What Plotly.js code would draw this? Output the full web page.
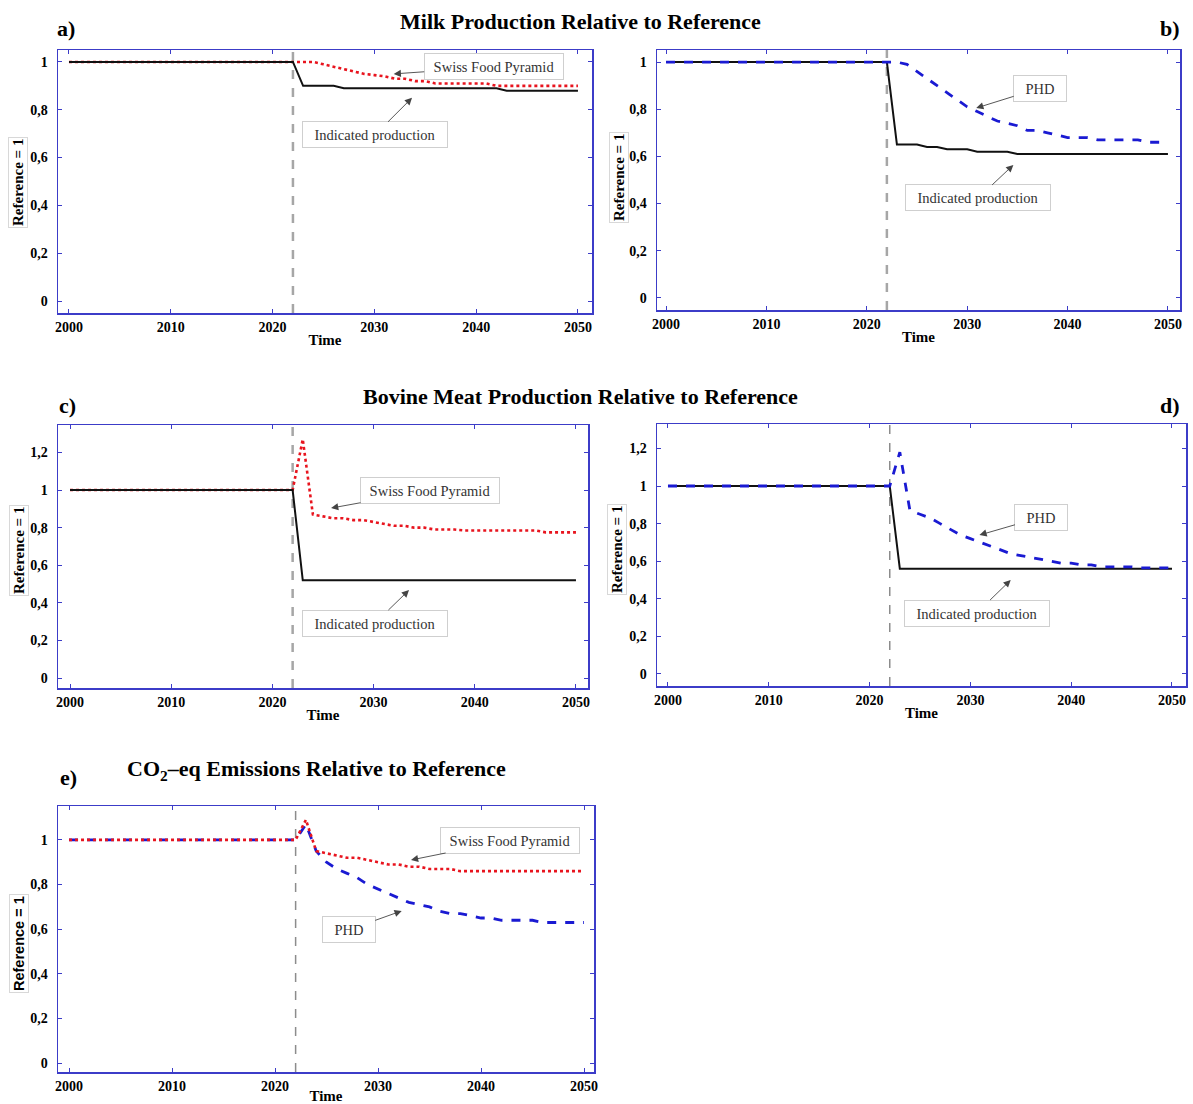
<!DOCTYPE html>
<html><head><meta charset="utf-8">
<script src="https://cdn.plot.ly/plotly-3.0.1.min.js"></script>
<style>html,body{margin:0;padding:0;background:#fff}#chart{width:1193px;height:1104px}</style>
</head><body><div id="chart"></div>
<script>
// ---------- data ----------
const years = [2000,2001,2002,2003,2004,2005,2006,2007,2008,2009,2010,2011,2012,2013,2014,2015,2016,2017,2018,2019,2020,2021,2022,
               2023,2024,2025,2026,2027,2028,2029,2030,2031,2032,2033,2034,2035,2036,2037,2038,2039,2040,2041,2042,2043,2044,2045,2046,2047,2048,2049,2050];
const policyYear = 2022;
const base = [1,1,1,1,1,1,1,1,1,1,1,1,1,1,1,1,1,1,1,1,1,1,1]; // 2000-2022

// a) milk – Swiss Food Pyramid scenario
const milkIndicatedSFP = base.concat([0.90,0.90,0.90,0.90,0.89,0.89,0.89,0.89,0.89,0.89,0.89,0.89,0.89,0.89,0.89,0.89,0.89,0.89,0.89,0.89,0.88,0.88,0.88,0.88,0.88,0.88,0.88,0.88]);
const milkSFP          = base.concat([1.00,1.00,0.99,0.98,0.97,0.96,0.95,0.945,0.94,0.93,0.93,0.92,0.92,0.91,0.91,0.91,0.91,0.91,0.91,0.90,0.90,0.90,0.90,0.90,0.90,0.90,0.90,0.90]);
// b) milk – PHD scenario
const milkIndicatedPHD = base.concat([0.65,0.65,0.65,0.64,0.64,0.63,0.63,0.63,0.62,0.62,0.62,0.62,0.61,0.61,0.61,0.61,0.61,0.61,0.61,0.61,0.61,0.61,0.61,0.61,0.61,0.61,0.61,0.61]);
const milkPHD          = base.concat([1.00,0.99,0.96,0.93,0.90,0.87,0.84,0.81,0.79,0.77,0.75,0.74,0.73,0.71,0.71,0.70,0.69,0.68,0.68,0.68,0.67,0.67,0.67,0.67,0.67,0.66,0.66,0.66]);
// c) bovine meat – Swiss Food Pyramid scenario
const beefIndicatedSFP = base.concat([0.52,0.52,0.52,0.52,0.52,0.52,0.52,0.52,0.52,0.52,0.52,0.52,0.52,0.52,0.52,0.52,0.52,0.52,0.52,0.52,0.52,0.52,0.52,0.52,0.52,0.52,0.52,0.52]);
const beefSFP          = base.concat([1.27,0.87,0.86,0.85,0.85,0.84,0.84,0.83,0.82,0.81,0.81,0.80,0.80,0.79,0.79,0.79,0.785,0.785,0.785,0.785,0.785,0.785,0.785,0.785,0.775,0.775,0.775,0.775]);
// d) bovine meat – PHD scenario
const beefIndicatedPHD = base.concat([0.56,0.56,0.56,0.56,0.56,0.56,0.56,0.56,0.56,0.56,0.56,0.56,0.56,0.56,0.56,0.56,0.56,0.56,0.56,0.56,0.56,0.56,0.56,0.56,0.56,0.56,0.56,0.56]);
const beefPHD          = base.concat([1.18,0.87,0.85,0.83,0.80,0.77,0.74,0.72,0.70,0.68,0.66,0.64,0.63,0.62,0.61,0.60,0.59,0.59,0.58,0.58,0.57,0.57,0.57,0.57,0.565,0.565,0.565,0.565]);
// e) CO2-eq emissions
const co2SFP = base.concat([1.09,0.95,0.94,0.93,0.92,0.92,0.91,0.90,0.89,0.89,0.88,0.88,0.87,0.87,0.87,0.86,0.86,0.86,0.86,0.86,0.86,0.86,0.86,0.86,0.86,0.86,0.86,0.86]);
const co2PHD = base.concat([1.07,0.95,0.90,0.87,0.85,0.83,0.80,0.78,0.76,0.74,0.72,0.71,0.70,0.68,0.67,0.67,0.66,0.65,0.65,0.64,0.64,0.64,0.64,0.63,0.63,0.63,0.63,0.63]);

const xTicks = [2000,2010,2020,2030,2040,2050];
const yTicks = [0,0.2,0.4,0.6,0.8,1];
const yTickText = ['0','0,2','0,4','0,6','0,8','1'];
const yTicksBeef = [0,0.2,0.4,0.6,0.8,1,1.2];
const yTickTextBeef = ['0','0,2','0,4','0,6','0,8','1','1,2'];

const titles = ['Milk Production Relative to Reference','Bovine Meat Production Relative to Reference','CO<sub>2</sub>–eq Emissions Relative to Reference'];
const panelLetters = ['a)','b)','c)','d)','e)'];
const yTitle = 'Reference = 1';
const xTitle = 'Time';

// callouts: [axis suffix, label, tip year, tip value, dx, dy]
const callouts = [
  ['', 'Swiss Food Pyramid', 2031.9, 0.95, 100, -7],
  ['', 'Indicated production', 2033.7, 0.85, -37, 37],
  ['2', 'PHD', 2030.9, 0.805, 64, -20],
  ['2', 'Indicated production', 2034.6, 0.564, -35, 33],
  ['3', 'Swiss Food Pyramid', 2025.8, 0.904, 99, -18],
  ['3', 'Indicated production', 2033.5, 0.468, -34, 33],
  ['4', 'PHD', 2030.9, 0.739, 62, -18],
  ['4', 'Indicated production', 2034.0, 0.50, -34, 33],
  ['5', 'Swiss Food Pyramid', 2033.2, 0.91, 99, -20],
  ['5', 'PHD', 2032.3, 0.682, -53, 19]
];

// ---------- styles ----------
const SERIF = 'Liberation Serif, Times New Roman, serif';
const SANS = 'Liberation Sans, Arial, sans-serif';
const FRAME = '#3c3cc8';
const black = {color:'#111', width:2};
const red = {color:'#e8141e', width:2.6, dash:'dot'};
const blue = {color:'#1a1ad2', width:2.8, dash:'dash'};

function tr(y, ax, line, name){
  return {x: years, y: y, xaxis:'x'+ax, yaxis:'y'+ax, mode:'lines', line: line, name: name, showlegend:false, hoverinfo:'skip'};
}
const data = [
  tr(milkSFP,'', red,'Swiss Food Pyramid'), tr(milkIndicatedSFP,'', black,'Indicated production'),
  tr(milkIndicatedPHD,'2', black,'Indicated production'), tr(milkPHD,'2', blue,'PHD'),
  tr(beefSFP,'3', red,'Swiss Food Pyramid'), tr(beefIndicatedSFP,'3', black,'Indicated production'),
  tr(beefIndicatedPHD,'4', black,'Indicated production'), tr(beefPHD,'4', blue,'PHD'),
  tr(co2PHD,'5', blue,'PHD'), tr(co2SFP,'5', red,'Swiss Food Pyramid')
];

const W = 1193, H = 1104;
function px(x){ return x / W; }
function py(y){ return 1 - y / H; }

function xAx(l, r, rng, anchor){
  return {domain:[px(l), px(r)], range:rng, anchor:anchor, showline:true, mirror:'ticks', linecolor:FRAME, linewidth:1.5,
    ticks:'inside', ticklen:4, tickcolor:FRAME, tickvals:xTicks, showgrid:false, zeroline:false, ticklabelstandoff:1,
    tickfont:{family:SERIF, size:14, weight:700, color:'#000'},
    title:{text:xTitle, standoff:0, font:{family:SERIF, size:15, weight:700, color:'#000'}}};
}
function yAx(t, b, rng, anchor, tv, tt){
  return {domain:[py(b), py(t)], range:rng, anchor:anchor, showline:true, mirror:'ticks', linecolor:FRAME, linewidth:1.5,
    ticks:'inside', ticklen:4, tickcolor:FRAME, tickvals:tv, ticktext:tt, showgrid:false, zeroline:false, ticklabelstandoff:6,
    tickfont:{family:SERIF, size:14, weight:700, color:'#000'}};
}

const layout = {
  width:W, height:H, margin:{l:0,r:0,t:0,b:0}, paper_bgcolor:'#fff', plot_bgcolor:'#fff', showlegend:false,
  xaxis:  xAx(58, 592, [1998.92, 2051.38], 'y'),
  yaxis:  yAx(50, 313, [-0.05, 1.05], 'x', yTicks, yTickText),
  xaxis2: xAx(657, 1180, [1999.10, 2051.2], 'y2'),
  yaxis2: yAx(50, 310, [-0.051, 1.051], 'x2', yTicks, yTickText),
  xaxis3: xAx(58, 588, [1998.81, 2051.19], 'y3'),
  yaxis3: yAx(425, 688, [-0.053, 1.346], 'x3', yTicksBeef, yTickTextBeef),
  xaxis4: xAx(657, 1186, [1998.91, 2051.39], 'y4'),
  yaxis4: yAx(424, 686, [-0.064, 1.33], 'x4', yTicksBeef, yTickTextBeef),
  xaxis5: xAx(58, 594, [1998.93, 2050.97], 'y5'),
  yaxis5: yAx(806, 1072, [-0.04, 1.152], 'x5', yTicks, yTickText),
  shapes: [], annotations: []
};

['', '2', '3', '4', '5'].forEach((s, i) => {
  layout.shapes.push({type:'line', xref:'x'+s, yref:'y'+s+' domain', x0:policyYear, x1:policyYear, y0:0, y1:1,
    line:{color: i < 3 ? '#a6a6a6' : '#8c8c8c', width: i < 3 ? 2.5 : 1.5, dash:'dash'}, layer:'below'});
});

// main titles
[[580,21],[580,396],[316,770]].forEach((p, i) => {
  layout.annotations.push({xref:'paper', yref:'paper', x:px(p[0]), y:py(p[1]), text:titles[i], showarrow:false,
    xanchor:'center', yanchor:'middle', font:{family:SERIF, size:22, weight:700, color:'#000'}});
});
// panel letters
[[66,29],[1170,29],[67,405],[1170,405],[68,777]].forEach((p, i) => {
  layout.annotations.push({xref:'paper', yref:'paper', x:px(p[0]), y:py(p[1]), text:panelLetters[i], showarrow:false,
    xanchor:'center', yanchor:'middle', font:{family:SERIF, size:22, weight:700, color:'#000'}});
});
// y titles
[[18,183,SERIF,15],[619,178,SERIF,15],[19,551,SERIF,15],[617,550,SERIF,15],[19,944,SANS,14.5]].forEach((p) => {
  layout.annotations.push({xref:'paper', yref:'paper', x:px(p[0]), y:py(p[1]), text:yTitle, showarrow:false, textangle:-90,
    xanchor:'center', yanchor:'middle', bgcolor:'#fff', bordercolor:'#d8d8d8', borderwidth:1, borderpad:1,
    font:{family:p[2], size:p[3], weight:700, color:'#000'}});
});
// callouts
callouts.forEach(c => {
  const w = c[1] === 'PHD' ? 44 : (c[1] === 'Swiss Food Pyramid' ? 130 : 136);
  layout.annotations.push({xref:'x'+c[0], yref:'y'+c[0], x:c[2], y:c[3], ax:c[4], ay:c[5], text:c[1],
    showarrow:true, arrowhead:2, arrowsize:1.6, arrowwidth:0.9, arrowcolor:'#444',
    bgcolor:'#fff', bordercolor:'#cfcfcf', borderwidth:1, borderpad:4, width:w, height:17,
    font:{family:SERIF, size:14.5, color:'#333'}});
});

Plotly.newPlot('chart', data, layout, {staticPlot:true, displayModeBar:false});
</script>
</body></html>
